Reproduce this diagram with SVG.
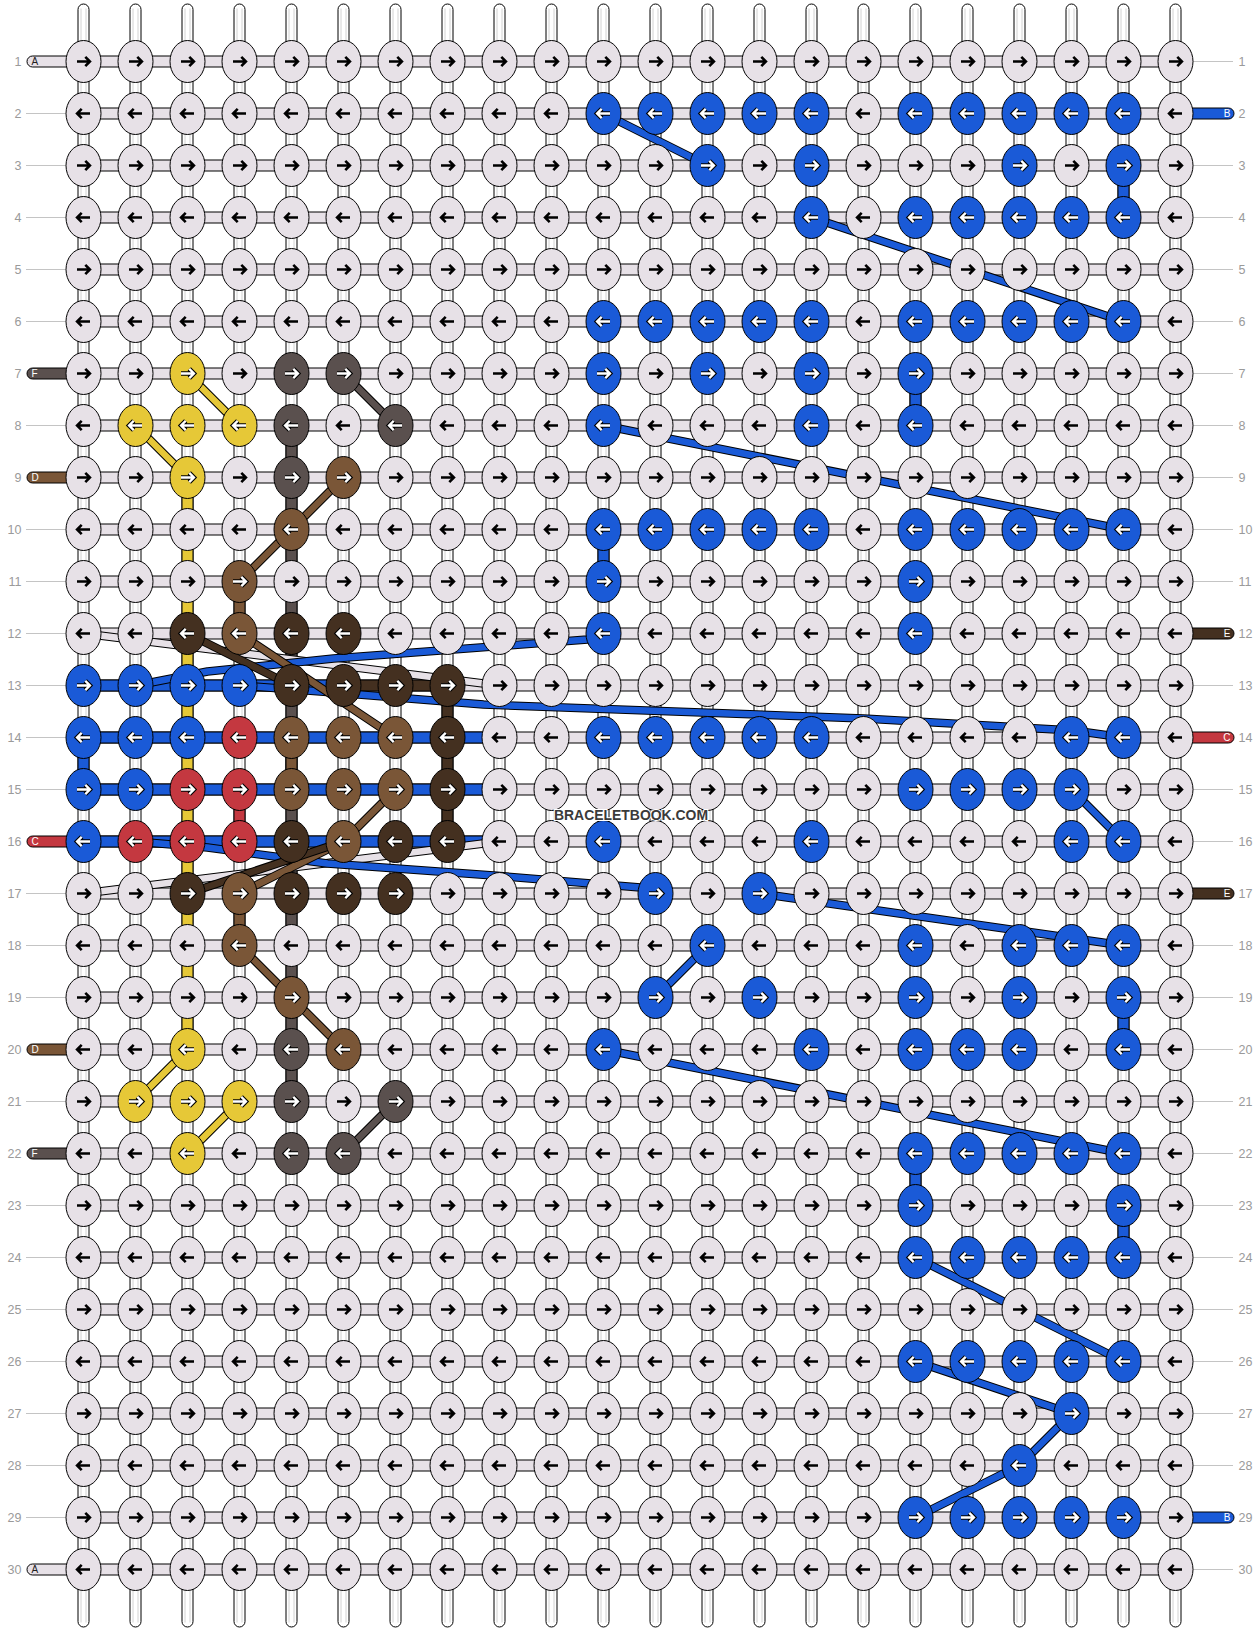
<svg xmlns="http://www.w3.org/2000/svg" width="1260" height="1632" viewBox="0 0 1260 1632">
<style>
.num{font-family:"Liberation Sans",Arial,sans-serif;font-size:12.5px;fill:#9a9a9a}
.nr{text-anchor:end}
.gl{stroke:#c4c4c4;stroke-width:1;fill:none}
.tl{font-family:"Liberation Sans",Arial,sans-serif;font-size:10px}
.o{fill:none;stroke:#000;stroke-width:8.5;stroke-linejoin:round}
.o2{fill:none;stroke-width:6.5;stroke-linejoin:round}
.cU{stroke:#1a5ad7}.cY{stroke:#e6c837}.cG{stroke:#5a504e}.cD{stroke:#7a5637}.cE{stroke:#443020}.cR{stroke:#c43840}.cL{stroke:#e7e1e7}
.seg{stroke:#000;stroke-width:1}
</style>
<defs>
<g id="vt"><rect x="-5.5" y="-57.5" width="11" height="1623" rx="5.5" fill="#fff" stroke="#000"/><path d="M-2.5,-53V1561M2.5,-53V1561" stroke="#d2d2d2"/></g>
<rect id="hb" x="0" y="-5.5" width="1092" height="11" fill="#e7e1e7" stroke="#000"/>
<ellipse id="e" rx="17.5" ry="21" stroke="#000" stroke-width="1"/>
<path id="pr" d="M-6.5,0H5.5M1.8,-4.6L6.4,0L1.8,4.6" fill="none"/>
<path id="pl" d="M6.5,0H-5.5M-1.8,-4.6L-6.4,0L-1.8,4.6" fill="none"/>
<use id="ab1" href="#pr" stroke="#000" stroke-width="2.6"/>
<use id="ab0" href="#pl" stroke="#000" stroke-width="2.6"/>
<g id="aw1"><use href="#pr" stroke="#000" stroke-width="4.6"/><use href="#pr" stroke="#fff" stroke-width="2.4"/></g>
<g id="aw0"><use href="#pl" stroke="#000" stroke-width="4.6"/><use href="#pl" stroke="#fff" stroke-width="2.4"/></g>
<g id="L1"><use href="#e" fill="#e7e1e7"/><use href="#ab1"/></g>
<g id="L0"><use href="#e" fill="#e7e1e7"/><use href="#ab0"/></g>
<g id="U1"><use href="#e" fill="#1a5ad7"/><use href="#aw1"/></g>
<g id="U0"><use href="#e" fill="#1a5ad7"/><use href="#aw0"/></g>
<g id="Y1"><use href="#e" fill="#e6c837"/><use href="#aw1"/></g>
<g id="Y0"><use href="#e" fill="#e6c837"/><use href="#aw0"/></g>
<g id="G1"><use href="#e" fill="#5a504e"/><use href="#aw1"/></g>
<g id="G0"><use href="#e" fill="#5a504e"/><use href="#aw0"/></g>
<g id="D1"><use href="#e" fill="#7a5637"/><use href="#aw1"/></g>
<g id="D0"><use href="#e" fill="#7a5637"/><use href="#aw0"/></g>
<g id="E1"><use href="#e" fill="#443020"/><use href="#aw1"/></g>
<g id="E0"><use href="#e" fill="#443020"/><use href="#aw0"/></g>
<g id="R1"><use href="#e" fill="#c43840"/><use href="#aw1"/></g>
<g id="R0"><use href="#e" fill="#c43840"/><use href="#aw0"/></g>
</defs>
<rect width="1260" height="1632" fill="#fff"/>
<g transform="translate(83.5 61.5)">
<g id="labels">
<g class="gl">
<path d="M-57.5,52H-17.5M-57.5,104H-17.5M-57.5,156H-17.5M-57.5,208H-17.5M-57.5,260H-17.5M-57.5,364H-17.5M-57.5,468H-17.5M-57.5,520H-17.5M-57.5,572H-17.5M-57.5,624H-17.5M-57.5,676H-17.5M-57.5,728H-17.5M-57.5,832H-17.5M-57.5,884H-17.5M-57.5,936H-17.5M-57.5,1040H-17.5M-57.5,1144H-17.5M-57.5,1196H-17.5M-57.5,1248H-17.5M-57.5,1300H-17.5M-57.5,1352H-17.5M-57.5,1404H-17.5M-57.5,1456H-17.5"/>
<path d="M1109.5,0H1149.5M1109.5,104H1149.5M1109.5,156H1149.5M1109.5,208H1149.5M1109.5,260H1149.5M1109.5,312H1149.5M1109.5,364H1149.5M1109.5,416H1149.5M1109.5,468H1149.5M1109.5,520H1149.5M1109.5,624H1149.5M1109.5,728H1149.5M1109.5,780H1149.5M1109.5,884H1149.5M1109.5,936H1149.5M1109.5,988H1149.5M1109.5,1040H1149.5M1109.5,1092H1149.5M1109.5,1144H1149.5M1109.5,1196H1149.5M1109.5,1248H1149.5M1109.5,1300H1149.5M1109.5,1352H1149.5M1109.5,1404H1149.5M1109.5,1508H1149.5"/>
</g>
<g class="num nr">
<text x="-62" y="4.3">1</text><text x="-62" y="56.3">2</text><text x="-62" y="108.3">3</text><text x="-62" y="160.3">4</text><text x="-62" y="212.3">5</text><text x="-62" y="264.3">6</text><text x="-62" y="316.3">7</text><text x="-62" y="368.3">8</text><text x="-62" y="420.3">9</text><text x="-62" y="472.3">10</text><text x="-62" y="524.3">11</text><text x="-62" y="576.3">12</text><text x="-62" y="628.3">13</text><text x="-62" y="680.3">14</text><text x="-62" y="732.3">15</text><text x="-62" y="784.3">16</text><text x="-62" y="836.3">17</text><text x="-62" y="888.3">18</text><text x="-62" y="940.3">19</text><text x="-62" y="992.3">20</text><text x="-62" y="1044.3">21</text><text x="-62" y="1096.3">22</text><text x="-62" y="1148.3">23</text><text x="-62" y="1200.3">24</text><text x="-62" y="1252.3">25</text><text x="-62" y="1304.3">26</text><text x="-62" y="1356.3">27</text><text x="-62" y="1408.3">28</text><text x="-62" y="1460.3">29</text><text x="-62" y="1512.3">30</text>
</g>
<g class="num">
<text x="1155" y="4.3">1</text><text x="1155" y="56.3">2</text><text x="1155" y="108.3">3</text><text x="1155" y="160.3">4</text><text x="1155" y="212.3">5</text><text x="1155" y="264.3">6</text><text x="1155" y="316.3">7</text><text x="1155" y="368.3">8</text><text x="1155" y="420.3">9</text><text x="1155" y="472.3">10</text><text x="1155" y="524.3">11</text><text x="1155" y="576.3">12</text><text x="1155" y="628.3">13</text><text x="1155" y="680.3">14</text><text x="1155" y="732.3">15</text><text x="1155" y="784.3">16</text><text x="1155" y="836.3">17</text><text x="1155" y="888.3">18</text><text x="1155" y="940.3">19</text><text x="1155" y="992.3">20</text><text x="1155" y="1044.3">21</text><text x="1155" y="1096.3">22</text><text x="1155" y="1148.3">23</text><text x="1155" y="1200.3">24</text><text x="1155" y="1252.3">25</text><text x="1155" y="1304.3">26</text><text x="1155" y="1356.3">27</text><text x="1155" y="1408.3">28</text><text x="1155" y="1460.3">29</text><text x="1155" y="1512.3">30</text>
</g>
</g>
<g id="strings">
<use href="#vt" x="0"/><use href="#vt" x="52"/><use href="#vt" x="104"/><use href="#vt" x="156"/><use href="#vt" x="208"/><use href="#vt" x="260"/><use href="#vt" x="312"/><use href="#vt" x="364"/><use href="#vt" x="416"/><use href="#vt" x="468"/><use href="#vt" x="520"/><use href="#vt" x="572"/><use href="#vt" x="624"/><use href="#vt" x="676"/><use href="#vt" x="728"/><use href="#vt" x="780"/><use href="#vt" x="832"/><use href="#vt" x="884"/><use href="#vt" x="936"/><use href="#vt" x="988"/><use href="#vt" x="1040"/><use href="#vt" x="1092"/>
<use href="#hb" y="0"/><use href="#hb" y="52"/><use href="#hb" y="104"/><use href="#hb" y="156"/><use href="#hb" y="208"/><use href="#hb" y="260"/><use href="#hb" y="312"/><use href="#hb" y="364"/><use href="#hb" y="416"/><use href="#hb" y="468"/><use href="#hb" y="520"/><use href="#hb" y="572"/><use href="#hb" y="624"/><use href="#hb" y="676"/><use href="#hb" y="728"/><use href="#hb" y="780"/><use href="#hb" y="832"/><use href="#hb" y="884"/><use href="#hb" y="936"/><use href="#hb" y="988"/><use href="#hb" y="1040"/><use href="#hb" y="1092"/><use href="#hb" y="1144"/><use href="#hb" y="1196"/><use href="#hb" y="1248"/><use href="#hb" y="1300"/><use href="#hb" y="1352"/><use href="#hb" y="1404"/><use href="#hb" y="1456"/><use href="#hb" y="1508"/>
</g>
<g id="ends" class="seg">
<rect x="-56.5" y="-5.5" width="45" height="11" rx="5.5" fill="#e7e1e7"/>
<rect x="-56.5" y="306.5" width="45" height="11" rx="5.5" fill="#5a504e"/>
<rect x="-56.5" y="410.5" width="45" height="11" rx="5.5" fill="#7a5637"/>
<rect x="-56.5" y="774.5" width="45" height="11" rx="5.5" fill="#c43840"/>
<rect x="-56.5" y="982.5" width="45" height="11" rx="5.5" fill="#7a5637"/>
<rect x="-56.5" y="1086.5" width="45" height="11" rx="5.5" fill="#5a504e"/>
<rect x="-56.5" y="1502.5" width="45" height="11" rx="5.5" fill="#e7e1e7"/>
<rect x="1100" y="46.5" width="50.5" height="11" rx="5.5" fill="#1a5ad7"/>
<rect x="1100" y="566.5" width="50.5" height="11" rx="5.5" fill="#443020"/>
<rect x="1100" y="670.5" width="50.5" height="11" rx="5.5" fill="#c43840"/>
<rect x="1100" y="826.5" width="50.5" height="11" rx="5.5" fill="#443020"/>
<rect x="1100" y="1450.5" width="50.5" height="11" rx="5.5" fill="#1a5ad7"/>
</g>
<g class="tl">
<text x="-52" y="3.7" fill="#222">A</text>
<text x="-52" y="315.7" fill="#fff">F</text>
<text x="-52" y="419.7" fill="#fff">D</text>
<text x="-52" y="783.7" fill="#fff">C</text>
<text x="-52" y="991.7" fill="#fff">D</text>
<text x="-52" y="1095.7" fill="#fff">F</text>
<text x="-52" y="1511.7" fill="#222">A</text>
<text x="1147" y="55.7" fill="#fff" text-anchor="end">B</text>
<text x="1147" y="575.7" fill="#fff" text-anchor="end">E</text>
<text x="1147" y="679.7" fill="#fff" text-anchor="end">C</text>
<text x="1147" y="835.7" fill="#fff" text-anchor="end">E</text>
<text x="1147" y="1459.7" fill="#fff" text-anchor="end">B</text>
</g>
<g id="connectors">
<g class="seg">
<rect x="98.5" y="416" width="11" height="572" fill="#e6c837"/>
<rect x="202.5" y="364" width="11" height="676" fill="#5a504e"/>
<rect x="202.5" y="676" width="11" height="52" fill="#7a5637"/>
<rect x="150.5" y="520" width="11" height="52" fill="#7a5637"/>
<rect x="150.5" y="832" width="11" height="52" fill="#7a5637"/>
<rect x="150.5" y="728" width="11" height="52" fill="#c43840"/>
<rect x="358.5" y="624" width="11" height="156" fill="#443020"/>
<rect x="-5.5" y="676" width="11" height="52" fill="#1a5ad7"/>
<rect x="1034.5" y="104" width="11" height="52" fill="#1a5ad7"/>
<rect x="1034.5" y="936" width="11" height="52" fill="#1a5ad7"/>
<rect x="1034.5" y="1144" width="11" height="52" fill="#1a5ad7"/>
<rect x="826.5" y="1092" width="11" height="52" fill="#1a5ad7"/>
<rect x="826.5" y="312" width="11" height="52" fill="#1a5ad7"/>
<rect x="514.5" y="468" width="11" height="52" fill="#1a5ad7"/>
<rect x="0" y="618.5" width="260" height="11" fill="#1a5ad7"/>
<rect x="260" y="618.5" width="104" height="11" fill="#443020"/>
<rect x="0" y="670.5" width="416" height="11" fill="#1a5ad7"/>
<rect x="0" y="722.5" width="416" height="11" fill="#1a5ad7"/>
<rect x="0" y="774.5" width="416" height="11" fill="#1a5ad7"/>
</g>
<g id="band-yellow">
<path class="o" d="M104,312L156,364M52,364L104,416M104,988L52,1040M156,1040L104,1092"/>
<path class="o2 cY" d="M104,312L156,364M52,364L104,416M104,988L52,1040M156,1040L104,1092"/>
</g>
<g id="band-gray">
<path class="o" d="M260,312L312,364M312,1040L260,1092"/>
<path class="o2 cG" d="M260,312L312,364M312,1040L260,1092"/>
</g>
<g id="band-light">
<path class="o" d="M0,572L416,624M0,832L416,780"/>
<path class="o2 cL" d="M0,572L416,624M0,832L416,780"/>
</g>
<g id="band-blue">
<path class="o" d="M520,52L624,104M728,156L1040,260M520,364L1040,468M52,624L124,610L250,597L317,592L504,578L520,572M156,624L250,631L400,643L780,657L990,669L1040,676M988,728L1040,780M52,780L124,786L244,802L410,814L557,826L572,832M676,832L1040,884M624,884L572,936M520,988L1040,1092M832,1196L1040,1300M832,1300L988,1352L936,1404L832,1456"/>
<path class="o2 cU" d="M520,52L624,104M728,156L1040,260M520,364L1040,468M52,624L124,610L250,597L317,592L504,578L520,572M156,624L250,631L400,643L780,657L990,669L1040,676M988,728L1040,780M52,780L124,786L244,802L410,814L557,826L572,832M676,832L1040,884M624,884L572,936M520,988L1040,1092M832,1196L1040,1300M832,1300L988,1352L936,1404L832,1456"/>
</g>
<g id="band-brown">
<path class="o" d="M260,416L156,520M156,884L260,988M156,572L312,676M312,728L260,780L156,832"/>
<path class="o2 cD" d="M260,416L156,520M156,884L260,988M156,572L312,676M312,728L260,780L156,832"/>
</g>
<g id="band-darkbrown">
<path class="o" d="M104,572L208,624M104,832L260,780"/>
<path class="o2 cE" d="M104,572L208,624M104,832L260,780"/>
</g>
</g>
<g id="knots">
<g id="row1"><use id="k1-1" href="#L1" x="0" y="0"/><use id="k1-2" href="#L1" x="52" y="0"/><use id="k1-3" href="#L1" x="104" y="0"/><use id="k1-4" href="#L1" x="156" y="0"/><use id="k1-5" href="#L1" x="208" y="0"/><use id="k1-6" href="#L1" x="260" y="0"/><use id="k1-7" href="#L1" x="312" y="0"/><use id="k1-8" href="#L1" x="364" y="0"/><use id="k1-9" href="#L1" x="416" y="0"/><use id="k1-10" href="#L1" x="468" y="0"/><use id="k1-11" href="#L1" x="520" y="0"/><use id="k1-12" href="#L1" x="572" y="0"/><use id="k1-13" href="#L1" x="624" y="0"/><use id="k1-14" href="#L1" x="676" y="0"/><use id="k1-15" href="#L1" x="728" y="0"/><use id="k1-16" href="#L1" x="780" y="0"/><use id="k1-17" href="#L1" x="832" y="0"/><use id="k1-18" href="#L1" x="884" y="0"/><use id="k1-19" href="#L1" x="936" y="0"/><use id="k1-20" href="#L1" x="988" y="0"/><use id="k1-21" href="#L1" x="1040" y="0"/><use id="k1-22" href="#L1" x="1092" y="0"/></g>
<g id="row2"><use id="k2-1" href="#L0" x="0" y="52"/><use id="k2-2" href="#L0" x="52" y="52"/><use id="k2-3" href="#L0" x="104" y="52"/><use id="k2-4" href="#L0" x="156" y="52"/><use id="k2-5" href="#L0" x="208" y="52"/><use id="k2-6" href="#L0" x="260" y="52"/><use id="k2-7" href="#L0" x="312" y="52"/><use id="k2-8" href="#L0" x="364" y="52"/><use id="k2-9" href="#L0" x="416" y="52"/><use id="k2-10" href="#L0" x="468" y="52"/><use id="k2-11" href="#U0" x="520" y="52"/><use id="k2-12" href="#U0" x="572" y="52"/><use id="k2-13" href="#U0" x="624" y="52"/><use id="k2-14" href="#U0" x="676" y="52"/><use id="k2-15" href="#U0" x="728" y="52"/><use id="k2-16" href="#L0" x="780" y="52"/><use id="k2-17" href="#U0" x="832" y="52"/><use id="k2-18" href="#U0" x="884" y="52"/><use id="k2-19" href="#U0" x="936" y="52"/><use id="k2-20" href="#U0" x="988" y="52"/><use id="k2-21" href="#U0" x="1040" y="52"/><use id="k2-22" href="#L0" x="1092" y="52"/></g>
<g id="row3"><use id="k3-1" href="#L1" x="0" y="104"/><use id="k3-2" href="#L1" x="52" y="104"/><use id="k3-3" href="#L1" x="104" y="104"/><use id="k3-4" href="#L1" x="156" y="104"/><use id="k3-5" href="#L1" x="208" y="104"/><use id="k3-6" href="#L1" x="260" y="104"/><use id="k3-7" href="#L1" x="312" y="104"/><use id="k3-8" href="#L1" x="364" y="104"/><use id="k3-9" href="#L1" x="416" y="104"/><use id="k3-10" href="#L1" x="468" y="104"/><use id="k3-11" href="#L1" x="520" y="104"/><use id="k3-12" href="#L1" x="572" y="104"/><use id="k3-13" href="#U1" x="624" y="104"/><use id="k3-14" href="#L1" x="676" y="104"/><use id="k3-15" href="#U1" x="728" y="104"/><use id="k3-16" href="#L1" x="780" y="104"/><use id="k3-17" href="#L1" x="832" y="104"/><use id="k3-18" href="#L1" x="884" y="104"/><use id="k3-19" href="#U1" x="936" y="104"/><use id="k3-20" href="#L1" x="988" y="104"/><use id="k3-21" href="#U1" x="1040" y="104"/><use id="k3-22" href="#L1" x="1092" y="104"/></g>
<g id="row4"><use id="k4-1" href="#L0" x="0" y="156"/><use id="k4-2" href="#L0" x="52" y="156"/><use id="k4-3" href="#L0" x="104" y="156"/><use id="k4-4" href="#L0" x="156" y="156"/><use id="k4-5" href="#L0" x="208" y="156"/><use id="k4-6" href="#L0" x="260" y="156"/><use id="k4-7" href="#L0" x="312" y="156"/><use id="k4-8" href="#L0" x="364" y="156"/><use id="k4-9" href="#L0" x="416" y="156"/><use id="k4-10" href="#L0" x="468" y="156"/><use id="k4-11" href="#L0" x="520" y="156"/><use id="k4-12" href="#L0" x="572" y="156"/><use id="k4-13" href="#L0" x="624" y="156"/><use id="k4-14" href="#L0" x="676" y="156"/><use id="k4-15" href="#U0" x="728" y="156"/><use id="k4-16" href="#L0" x="780" y="156"/><use id="k4-17" href="#U0" x="832" y="156"/><use id="k4-18" href="#U0" x="884" y="156"/><use id="k4-19" href="#U0" x="936" y="156"/><use id="k4-20" href="#U0" x="988" y="156"/><use id="k4-21" href="#U0" x="1040" y="156"/><use id="k4-22" href="#L0" x="1092" y="156"/></g>
<g id="row5"><use id="k5-1" href="#L1" x="0" y="208"/><use id="k5-2" href="#L1" x="52" y="208"/><use id="k5-3" href="#L1" x="104" y="208"/><use id="k5-4" href="#L1" x="156" y="208"/><use id="k5-5" href="#L1" x="208" y="208"/><use id="k5-6" href="#L1" x="260" y="208"/><use id="k5-7" href="#L1" x="312" y="208"/><use id="k5-8" href="#L1" x="364" y="208"/><use id="k5-9" href="#L1" x="416" y="208"/><use id="k5-10" href="#L1" x="468" y="208"/><use id="k5-11" href="#L1" x="520" y="208"/><use id="k5-12" href="#L1" x="572" y="208"/><use id="k5-13" href="#L1" x="624" y="208"/><use id="k5-14" href="#L1" x="676" y="208"/><use id="k5-15" href="#L1" x="728" y="208"/><use id="k5-16" href="#L1" x="780" y="208"/><use id="k5-17" href="#L1" x="832" y="208"/><use id="k5-18" href="#L1" x="884" y="208"/><use id="k5-19" href="#L1" x="936" y="208"/><use id="k5-20" href="#L1" x="988" y="208"/><use id="k5-21" href="#L1" x="1040" y="208"/><use id="k5-22" href="#L1" x="1092" y="208"/></g>
<g id="row6"><use id="k6-1" href="#L0" x="0" y="260"/><use id="k6-2" href="#L0" x="52" y="260"/><use id="k6-3" href="#L0" x="104" y="260"/><use id="k6-4" href="#L0" x="156" y="260"/><use id="k6-5" href="#L0" x="208" y="260"/><use id="k6-6" href="#L0" x="260" y="260"/><use id="k6-7" href="#L0" x="312" y="260"/><use id="k6-8" href="#L0" x="364" y="260"/><use id="k6-9" href="#L0" x="416" y="260"/><use id="k6-10" href="#L0" x="468" y="260"/><use id="k6-11" href="#U0" x="520" y="260"/><use id="k6-12" href="#U0" x="572" y="260"/><use id="k6-13" href="#U0" x="624" y="260"/><use id="k6-14" href="#U0" x="676" y="260"/><use id="k6-15" href="#U0" x="728" y="260"/><use id="k6-16" href="#L0" x="780" y="260"/><use id="k6-17" href="#U0" x="832" y="260"/><use id="k6-18" href="#U0" x="884" y="260"/><use id="k6-19" href="#U0" x="936" y="260"/><use id="k6-20" href="#U0" x="988" y="260"/><use id="k6-21" href="#U0" x="1040" y="260"/><use id="k6-22" href="#L0" x="1092" y="260"/></g>
<g id="row7"><use id="k7-1" href="#L1" x="0" y="312"/><use id="k7-2" href="#L1" x="52" y="312"/><use id="k7-3" href="#Y1" x="104" y="312"/><use id="k7-4" href="#L1" x="156" y="312"/><use id="k7-5" href="#G1" x="208" y="312"/><use id="k7-6" href="#G1" x="260" y="312"/><use id="k7-7" href="#L1" x="312" y="312"/><use id="k7-8" href="#L1" x="364" y="312"/><use id="k7-9" href="#L1" x="416" y="312"/><use id="k7-10" href="#L1" x="468" y="312"/><use id="k7-11" href="#U1" x="520" y="312"/><use id="k7-12" href="#L1" x="572" y="312"/><use id="k7-13" href="#U1" x="624" y="312"/><use id="k7-14" href="#L1" x="676" y="312"/><use id="k7-15" href="#U1" x="728" y="312"/><use id="k7-16" href="#L1" x="780" y="312"/><use id="k7-17" href="#U1" x="832" y="312"/><use id="k7-18" href="#L1" x="884" y="312"/><use id="k7-19" href="#L1" x="936" y="312"/><use id="k7-20" href="#L1" x="988" y="312"/><use id="k7-21" href="#L1" x="1040" y="312"/><use id="k7-22" href="#L1" x="1092" y="312"/></g>
<g id="row8"><use id="k8-1" href="#L0" x="0" y="364"/><use id="k8-2" href="#Y0" x="52" y="364"/><use id="k8-3" href="#Y0" x="104" y="364"/><use id="k8-4" href="#Y0" x="156" y="364"/><use id="k8-5" href="#G0" x="208" y="364"/><use id="k8-6" href="#L0" x="260" y="364"/><use id="k8-7" href="#G0" x="312" y="364"/><use id="k8-8" href="#L0" x="364" y="364"/><use id="k8-9" href="#L0" x="416" y="364"/><use id="k8-10" href="#L0" x="468" y="364"/><use id="k8-11" href="#U0" x="520" y="364"/><use id="k8-12" href="#L0" x="572" y="364"/><use id="k8-13" href="#L0" x="624" y="364"/><use id="k8-14" href="#L0" x="676" y="364"/><use id="k8-15" href="#U0" x="728" y="364"/><use id="k8-16" href="#L0" x="780" y="364"/><use id="k8-17" href="#U0" x="832" y="364"/><use id="k8-18" href="#L0" x="884" y="364"/><use id="k8-19" href="#L0" x="936" y="364"/><use id="k8-20" href="#L0" x="988" y="364"/><use id="k8-21" href="#L0" x="1040" y="364"/><use id="k8-22" href="#L0" x="1092" y="364"/></g>
<g id="row9"><use id="k9-1" href="#L1" x="0" y="416"/><use id="k9-2" href="#L1" x="52" y="416"/><use id="k9-3" href="#Y1" x="104" y="416"/><use id="k9-4" href="#L1" x="156" y="416"/><use id="k9-5" href="#G1" x="208" y="416"/><use id="k9-6" href="#D1" x="260" y="416"/><use id="k9-7" href="#L1" x="312" y="416"/><use id="k9-8" href="#L1" x="364" y="416"/><use id="k9-9" href="#L1" x="416" y="416"/><use id="k9-10" href="#L1" x="468" y="416"/><use id="k9-11" href="#L1" x="520" y="416"/><use id="k9-12" href="#L1" x="572" y="416"/><use id="k9-13" href="#L1" x="624" y="416"/><use id="k9-14" href="#L1" x="676" y="416"/><use id="k9-15" href="#L1" x="728" y="416"/><use id="k9-16" href="#L1" x="780" y="416"/><use id="k9-17" href="#L1" x="832" y="416"/><use id="k9-18" href="#L1" x="884" y="416"/><use id="k9-19" href="#L1" x="936" y="416"/><use id="k9-20" href="#L1" x="988" y="416"/><use id="k9-21" href="#L1" x="1040" y="416"/><use id="k9-22" href="#L1" x="1092" y="416"/></g>
<g id="row10"><use id="k10-1" href="#L0" x="0" y="468"/><use id="k10-2" href="#L0" x="52" y="468"/><use id="k10-3" href="#L0" x="104" y="468"/><use id="k10-4" href="#L0" x="156" y="468"/><use id="k10-5" href="#D0" x="208" y="468"/><use id="k10-6" href="#L0" x="260" y="468"/><use id="k10-7" href="#L0" x="312" y="468"/><use id="k10-8" href="#L0" x="364" y="468"/><use id="k10-9" href="#L0" x="416" y="468"/><use id="k10-10" href="#L0" x="468" y="468"/><use id="k10-11" href="#U0" x="520" y="468"/><use id="k10-12" href="#U0" x="572" y="468"/><use id="k10-13" href="#U0" x="624" y="468"/><use id="k10-14" href="#U0" x="676" y="468"/><use id="k10-15" href="#U0" x="728" y="468"/><use id="k10-16" href="#L0" x="780" y="468"/><use id="k10-17" href="#U0" x="832" y="468"/><use id="k10-18" href="#U0" x="884" y="468"/><use id="k10-19" href="#U0" x="936" y="468"/><use id="k10-20" href="#U0" x="988" y="468"/><use id="k10-21" href="#U0" x="1040" y="468"/><use id="k10-22" href="#L0" x="1092" y="468"/></g>
<g id="row11"><use id="k11-1" href="#L1" x="0" y="520"/><use id="k11-2" href="#L1" x="52" y="520"/><use id="k11-3" href="#L1" x="104" y="520"/><use id="k11-4" href="#D1" x="156" y="520"/><use id="k11-5" href="#L1" x="208" y="520"/><use id="k11-6" href="#L1" x="260" y="520"/><use id="k11-7" href="#L1" x="312" y="520"/><use id="k11-8" href="#L1" x="364" y="520"/><use id="k11-9" href="#L1" x="416" y="520"/><use id="k11-10" href="#L1" x="468" y="520"/><use id="k11-11" href="#U1" x="520" y="520"/><use id="k11-12" href="#L1" x="572" y="520"/><use id="k11-13" href="#L1" x="624" y="520"/><use id="k11-14" href="#L1" x="676" y="520"/><use id="k11-15" href="#L1" x="728" y="520"/><use id="k11-16" href="#L1" x="780" y="520"/><use id="k11-17" href="#U1" x="832" y="520"/><use id="k11-18" href="#L1" x="884" y="520"/><use id="k11-19" href="#L1" x="936" y="520"/><use id="k11-20" href="#L1" x="988" y="520"/><use id="k11-21" href="#L1" x="1040" y="520"/><use id="k11-22" href="#L1" x="1092" y="520"/></g>
<g id="row12"><use id="k12-1" href="#L0" x="0" y="572"/><use id="k12-2" href="#L0" x="52" y="572"/><use id="k12-3" href="#E0" x="104" y="572"/><use id="k12-4" href="#D0" x="156" y="572"/><use id="k12-5" href="#E0" x="208" y="572"/><use id="k12-6" href="#E0" x="260" y="572"/><use id="k12-7" href="#L0" x="312" y="572"/><use id="k12-8" href="#L0" x="364" y="572"/><use id="k12-9" href="#L0" x="416" y="572"/><use id="k12-10" href="#L0" x="468" y="572"/><use id="k12-11" href="#U0" x="520" y="572"/><use id="k12-12" href="#L0" x="572" y="572"/><use id="k12-13" href="#L0" x="624" y="572"/><use id="k12-14" href="#L0" x="676" y="572"/><use id="k12-15" href="#L0" x="728" y="572"/><use id="k12-16" href="#L0" x="780" y="572"/><use id="k12-17" href="#U0" x="832" y="572"/><use id="k12-18" href="#L0" x="884" y="572"/><use id="k12-19" href="#L0" x="936" y="572"/><use id="k12-20" href="#L0" x="988" y="572"/><use id="k12-21" href="#L0" x="1040" y="572"/><use id="k12-22" href="#L0" x="1092" y="572"/></g>
<g id="row13"><use id="k13-1" href="#U1" x="0" y="624"/><use id="k13-2" href="#U1" x="52" y="624"/><use id="k13-3" href="#U1" x="104" y="624"/><use id="k13-4" href="#U1" x="156" y="624"/><use id="k13-5" href="#E1" x="208" y="624"/><use id="k13-6" href="#E1" x="260" y="624"/><use id="k13-7" href="#E1" x="312" y="624"/><use id="k13-8" href="#E1" x="364" y="624"/><use id="k13-9" href="#L1" x="416" y="624"/><use id="k13-10" href="#L1" x="468" y="624"/><use id="k13-11" href="#L1" x="520" y="624"/><use id="k13-12" href="#L1" x="572" y="624"/><use id="k13-13" href="#L1" x="624" y="624"/><use id="k13-14" href="#L1" x="676" y="624"/><use id="k13-15" href="#L1" x="728" y="624"/><use id="k13-16" href="#L1" x="780" y="624"/><use id="k13-17" href="#L1" x="832" y="624"/><use id="k13-18" href="#L1" x="884" y="624"/><use id="k13-19" href="#L1" x="936" y="624"/><use id="k13-20" href="#L1" x="988" y="624"/><use id="k13-21" href="#L1" x="1040" y="624"/><use id="k13-22" href="#L1" x="1092" y="624"/></g>
<g id="row14"><use id="k14-1" href="#U0" x="0" y="676"/><use id="k14-2" href="#U0" x="52" y="676"/><use id="k14-3" href="#U0" x="104" y="676"/><use id="k14-4" href="#R0" x="156" y="676"/><use id="k14-5" href="#D0" x="208" y="676"/><use id="k14-6" href="#D0" x="260" y="676"/><use id="k14-7" href="#D0" x="312" y="676"/><use id="k14-8" href="#E0" x="364" y="676"/><use id="k14-9" href="#L0" x="416" y="676"/><use id="k14-10" href="#L0" x="468" y="676"/><use id="k14-11" href="#U0" x="520" y="676"/><use id="k14-12" href="#U0" x="572" y="676"/><use id="k14-13" href="#U0" x="624" y="676"/><use id="k14-14" href="#U0" x="676" y="676"/><use id="k14-15" href="#U0" x="728" y="676"/><use id="k14-16" href="#L0" x="780" y="676"/><use id="k14-17" href="#L0" x="832" y="676"/><use id="k14-18" href="#L0" x="884" y="676"/><use id="k14-19" href="#L0" x="936" y="676"/><use id="k14-20" href="#U0" x="988" y="676"/><use id="k14-21" href="#U0" x="1040" y="676"/><use id="k14-22" href="#L0" x="1092" y="676"/></g>
<g id="row15"><use id="k15-1" href="#U1" x="0" y="728"/><use id="k15-2" href="#U1" x="52" y="728"/><use id="k15-3" href="#R1" x="104" y="728"/><use id="k15-4" href="#R1" x="156" y="728"/><use id="k15-5" href="#D1" x="208" y="728"/><use id="k15-6" href="#D1" x="260" y="728"/><use id="k15-7" href="#D1" x="312" y="728"/><use id="k15-8" href="#E1" x="364" y="728"/><use id="k15-9" href="#L1" x="416" y="728"/><use id="k15-10" href="#L1" x="468" y="728"/><use id="k15-11" href="#L1" x="520" y="728"/><use id="k15-12" href="#L1" x="572" y="728"/><use id="k15-13" href="#L1" x="624" y="728"/><use id="k15-14" href="#L1" x="676" y="728"/><use id="k15-15" href="#L1" x="728" y="728"/><use id="k15-16" href="#L1" x="780" y="728"/><use id="k15-17" href="#U1" x="832" y="728"/><use id="k15-18" href="#U1" x="884" y="728"/><use id="k15-19" href="#U1" x="936" y="728"/><use id="k15-20" href="#U1" x="988" y="728"/><use id="k15-21" href="#L1" x="1040" y="728"/><use id="k15-22" href="#L1" x="1092" y="728"/></g>
<g id="row16"><use id="k16-1" href="#U0" x="0" y="780"/><use id="k16-2" href="#R0" x="52" y="780"/><use id="k16-3" href="#R0" x="104" y="780"/><use id="k16-4" href="#R0" x="156" y="780"/><use id="k16-5" href="#E0" x="208" y="780"/><use id="k16-6" href="#D0" x="260" y="780"/><use id="k16-7" href="#E0" x="312" y="780"/><use id="k16-8" href="#E0" x="364" y="780"/><use id="k16-9" href="#L0" x="416" y="780"/><use id="k16-10" href="#L0" x="468" y="780"/><use id="k16-11" href="#U0" x="520" y="780"/><use id="k16-12" href="#L0" x="572" y="780"/><use id="k16-13" href="#L0" x="624" y="780"/><use id="k16-14" href="#L0" x="676" y="780"/><use id="k16-15" href="#U0" x="728" y="780"/><use id="k16-16" href="#L0" x="780" y="780"/><use id="k16-17" href="#L0" x="832" y="780"/><use id="k16-18" href="#L0" x="884" y="780"/><use id="k16-19" href="#L0" x="936" y="780"/><use id="k16-20" href="#U0" x="988" y="780"/><use id="k16-21" href="#U0" x="1040" y="780"/><use id="k16-22" href="#L0" x="1092" y="780"/></g>
<g id="row17"><use id="k17-1" href="#L1" x="0" y="832"/><use id="k17-2" href="#L1" x="52" y="832"/><use id="k17-3" href="#E1" x="104" y="832"/><use id="k17-4" href="#D1" x="156" y="832"/><use id="k17-5" href="#E1" x="208" y="832"/><use id="k17-6" href="#E1" x="260" y="832"/><use id="k17-7" href="#E1" x="312" y="832"/><use id="k17-8" href="#L1" x="364" y="832"/><use id="k17-9" href="#L1" x="416" y="832"/><use id="k17-10" href="#L1" x="468" y="832"/><use id="k17-11" href="#L1" x="520" y="832"/><use id="k17-12" href="#U1" x="572" y="832"/><use id="k17-13" href="#L1" x="624" y="832"/><use id="k17-14" href="#U1" x="676" y="832"/><use id="k17-15" href="#L1" x="728" y="832"/><use id="k17-16" href="#L1" x="780" y="832"/><use id="k17-17" href="#L1" x="832" y="832"/><use id="k17-18" href="#L1" x="884" y="832"/><use id="k17-19" href="#L1" x="936" y="832"/><use id="k17-20" href="#L1" x="988" y="832"/><use id="k17-21" href="#L1" x="1040" y="832"/><use id="k17-22" href="#L1" x="1092" y="832"/></g>
<g id="row18"><use id="k18-1" href="#L0" x="0" y="884"/><use id="k18-2" href="#L0" x="52" y="884"/><use id="k18-3" href="#L0" x="104" y="884"/><use id="k18-4" href="#D0" x="156" y="884"/><use id="k18-5" href="#L0" x="208" y="884"/><use id="k18-6" href="#L0" x="260" y="884"/><use id="k18-7" href="#L0" x="312" y="884"/><use id="k18-8" href="#L0" x="364" y="884"/><use id="k18-9" href="#L0" x="416" y="884"/><use id="k18-10" href="#L0" x="468" y="884"/><use id="k18-11" href="#L0" x="520" y="884"/><use id="k18-12" href="#L0" x="572" y="884"/><use id="k18-13" href="#U0" x="624" y="884"/><use id="k18-14" href="#L0" x="676" y="884"/><use id="k18-15" href="#L0" x="728" y="884"/><use id="k18-16" href="#L0" x="780" y="884"/><use id="k18-17" href="#U0" x="832" y="884"/><use id="k18-18" href="#L0" x="884" y="884"/><use id="k18-19" href="#U0" x="936" y="884"/><use id="k18-20" href="#U0" x="988" y="884"/><use id="k18-21" href="#U0" x="1040" y="884"/><use id="k18-22" href="#L0" x="1092" y="884"/></g>
<g id="row19"><use id="k19-1" href="#L1" x="0" y="936"/><use id="k19-2" href="#L1" x="52" y="936"/><use id="k19-3" href="#L1" x="104" y="936"/><use id="k19-4" href="#L1" x="156" y="936"/><use id="k19-5" href="#D1" x="208" y="936"/><use id="k19-6" href="#L1" x="260" y="936"/><use id="k19-7" href="#L1" x="312" y="936"/><use id="k19-8" href="#L1" x="364" y="936"/><use id="k19-9" href="#L1" x="416" y="936"/><use id="k19-10" href="#L1" x="468" y="936"/><use id="k19-11" href="#L1" x="520" y="936"/><use id="k19-12" href="#U1" x="572" y="936"/><use id="k19-13" href="#L1" x="624" y="936"/><use id="k19-14" href="#U1" x="676" y="936"/><use id="k19-15" href="#L1" x="728" y="936"/><use id="k19-16" href="#L1" x="780" y="936"/><use id="k19-17" href="#U1" x="832" y="936"/><use id="k19-18" href="#L1" x="884" y="936"/><use id="k19-19" href="#U1" x="936" y="936"/><use id="k19-20" href="#L1" x="988" y="936"/><use id="k19-21" href="#U1" x="1040" y="936"/><use id="k19-22" href="#L1" x="1092" y="936"/></g>
<g id="row20"><use id="k20-1" href="#L0" x="0" y="988"/><use id="k20-2" href="#L0" x="52" y="988"/><use id="k20-3" href="#Y0" x="104" y="988"/><use id="k20-4" href="#L0" x="156" y="988"/><use id="k20-5" href="#G0" x="208" y="988"/><use id="k20-6" href="#D0" x="260" y="988"/><use id="k20-7" href="#L0" x="312" y="988"/><use id="k20-8" href="#L0" x="364" y="988"/><use id="k20-9" href="#L0" x="416" y="988"/><use id="k20-10" href="#L0" x="468" y="988"/><use id="k20-11" href="#U0" x="520" y="988"/><use id="k20-12" href="#L0" x="572" y="988"/><use id="k20-13" href="#L0" x="624" y="988"/><use id="k20-14" href="#L0" x="676" y="988"/><use id="k20-15" href="#U0" x="728" y="988"/><use id="k20-16" href="#L0" x="780" y="988"/><use id="k20-17" href="#U0" x="832" y="988"/><use id="k20-18" href="#U0" x="884" y="988"/><use id="k20-19" href="#U0" x="936" y="988"/><use id="k20-20" href="#L0" x="988" y="988"/><use id="k20-21" href="#U0" x="1040" y="988"/><use id="k20-22" href="#L0" x="1092" y="988"/></g>
<g id="row21"><use id="k21-1" href="#L1" x="0" y="1040"/><use id="k21-2" href="#Y1" x="52" y="1040"/><use id="k21-3" href="#Y1" x="104" y="1040"/><use id="k21-4" href="#Y1" x="156" y="1040"/><use id="k21-5" href="#G1" x="208" y="1040"/><use id="k21-6" href="#L1" x="260" y="1040"/><use id="k21-7" href="#G1" x="312" y="1040"/><use id="k21-8" href="#L1" x="364" y="1040"/><use id="k21-9" href="#L1" x="416" y="1040"/><use id="k21-10" href="#L1" x="468" y="1040"/><use id="k21-11" href="#L1" x="520" y="1040"/><use id="k21-12" href="#L1" x="572" y="1040"/><use id="k21-13" href="#L1" x="624" y="1040"/><use id="k21-14" href="#L1" x="676" y="1040"/><use id="k21-15" href="#L1" x="728" y="1040"/><use id="k21-16" href="#L1" x="780" y="1040"/><use id="k21-17" href="#L1" x="832" y="1040"/><use id="k21-18" href="#L1" x="884" y="1040"/><use id="k21-19" href="#L1" x="936" y="1040"/><use id="k21-20" href="#L1" x="988" y="1040"/><use id="k21-21" href="#L1" x="1040" y="1040"/><use id="k21-22" href="#L1" x="1092" y="1040"/></g>
<g id="row22"><use id="k22-1" href="#L0" x="0" y="1092"/><use id="k22-2" href="#L0" x="52" y="1092"/><use id="k22-3" href="#Y0" x="104" y="1092"/><use id="k22-4" href="#L0" x="156" y="1092"/><use id="k22-5" href="#G0" x="208" y="1092"/><use id="k22-6" href="#G0" x="260" y="1092"/><use id="k22-7" href="#L0" x="312" y="1092"/><use id="k22-8" href="#L0" x="364" y="1092"/><use id="k22-9" href="#L0" x="416" y="1092"/><use id="k22-10" href="#L0" x="468" y="1092"/><use id="k22-11" href="#L0" x="520" y="1092"/><use id="k22-12" href="#L0" x="572" y="1092"/><use id="k22-13" href="#L0" x="624" y="1092"/><use id="k22-14" href="#L0" x="676" y="1092"/><use id="k22-15" href="#L0" x="728" y="1092"/><use id="k22-16" href="#L0" x="780" y="1092"/><use id="k22-17" href="#U0" x="832" y="1092"/><use id="k22-18" href="#U0" x="884" y="1092"/><use id="k22-19" href="#U0" x="936" y="1092"/><use id="k22-20" href="#U0" x="988" y="1092"/><use id="k22-21" href="#U0" x="1040" y="1092"/><use id="k22-22" href="#L0" x="1092" y="1092"/></g>
<g id="row23"><use id="k23-1" href="#L1" x="0" y="1144"/><use id="k23-2" href="#L1" x="52" y="1144"/><use id="k23-3" href="#L1" x="104" y="1144"/><use id="k23-4" href="#L1" x="156" y="1144"/><use id="k23-5" href="#L1" x="208" y="1144"/><use id="k23-6" href="#L1" x="260" y="1144"/><use id="k23-7" href="#L1" x="312" y="1144"/><use id="k23-8" href="#L1" x="364" y="1144"/><use id="k23-9" href="#L1" x="416" y="1144"/><use id="k23-10" href="#L1" x="468" y="1144"/><use id="k23-11" href="#L1" x="520" y="1144"/><use id="k23-12" href="#L1" x="572" y="1144"/><use id="k23-13" href="#L1" x="624" y="1144"/><use id="k23-14" href="#L1" x="676" y="1144"/><use id="k23-15" href="#L1" x="728" y="1144"/><use id="k23-16" href="#L1" x="780" y="1144"/><use id="k23-17" href="#U1" x="832" y="1144"/><use id="k23-18" href="#L1" x="884" y="1144"/><use id="k23-19" href="#L1" x="936" y="1144"/><use id="k23-20" href="#L1" x="988" y="1144"/><use id="k23-21" href="#U1" x="1040" y="1144"/><use id="k23-22" href="#L1" x="1092" y="1144"/></g>
<g id="row24"><use id="k24-1" href="#L0" x="0" y="1196"/><use id="k24-2" href="#L0" x="52" y="1196"/><use id="k24-3" href="#L0" x="104" y="1196"/><use id="k24-4" href="#L0" x="156" y="1196"/><use id="k24-5" href="#L0" x="208" y="1196"/><use id="k24-6" href="#L0" x="260" y="1196"/><use id="k24-7" href="#L0" x="312" y="1196"/><use id="k24-8" href="#L0" x="364" y="1196"/><use id="k24-9" href="#L0" x="416" y="1196"/><use id="k24-10" href="#L0" x="468" y="1196"/><use id="k24-11" href="#L0" x="520" y="1196"/><use id="k24-12" href="#L0" x="572" y="1196"/><use id="k24-13" href="#L0" x="624" y="1196"/><use id="k24-14" href="#L0" x="676" y="1196"/><use id="k24-15" href="#L0" x="728" y="1196"/><use id="k24-16" href="#L0" x="780" y="1196"/><use id="k24-17" href="#U0" x="832" y="1196"/><use id="k24-18" href="#U0" x="884" y="1196"/><use id="k24-19" href="#U0" x="936" y="1196"/><use id="k24-20" href="#U0" x="988" y="1196"/><use id="k24-21" href="#U0" x="1040" y="1196"/><use id="k24-22" href="#L0" x="1092" y="1196"/></g>
<g id="row25"><use id="k25-1" href="#L1" x="0" y="1248"/><use id="k25-2" href="#L1" x="52" y="1248"/><use id="k25-3" href="#L1" x="104" y="1248"/><use id="k25-4" href="#L1" x="156" y="1248"/><use id="k25-5" href="#L1" x="208" y="1248"/><use id="k25-6" href="#L1" x="260" y="1248"/><use id="k25-7" href="#L1" x="312" y="1248"/><use id="k25-8" href="#L1" x="364" y="1248"/><use id="k25-9" href="#L1" x="416" y="1248"/><use id="k25-10" href="#L1" x="468" y="1248"/><use id="k25-11" href="#L1" x="520" y="1248"/><use id="k25-12" href="#L1" x="572" y="1248"/><use id="k25-13" href="#L1" x="624" y="1248"/><use id="k25-14" href="#L1" x="676" y="1248"/><use id="k25-15" href="#L1" x="728" y="1248"/><use id="k25-16" href="#L1" x="780" y="1248"/><use id="k25-17" href="#L1" x="832" y="1248"/><use id="k25-18" href="#L1" x="884" y="1248"/><use id="k25-19" href="#L1" x="936" y="1248"/><use id="k25-20" href="#L1" x="988" y="1248"/><use id="k25-21" href="#L1" x="1040" y="1248"/><use id="k25-22" href="#L1" x="1092" y="1248"/></g>
<g id="row26"><use id="k26-1" href="#L0" x="0" y="1300"/><use id="k26-2" href="#L0" x="52" y="1300"/><use id="k26-3" href="#L0" x="104" y="1300"/><use id="k26-4" href="#L0" x="156" y="1300"/><use id="k26-5" href="#L0" x="208" y="1300"/><use id="k26-6" href="#L0" x="260" y="1300"/><use id="k26-7" href="#L0" x="312" y="1300"/><use id="k26-8" href="#L0" x="364" y="1300"/><use id="k26-9" href="#L0" x="416" y="1300"/><use id="k26-10" href="#L0" x="468" y="1300"/><use id="k26-11" href="#L0" x="520" y="1300"/><use id="k26-12" href="#L0" x="572" y="1300"/><use id="k26-13" href="#L0" x="624" y="1300"/><use id="k26-14" href="#L0" x="676" y="1300"/><use id="k26-15" href="#L0" x="728" y="1300"/><use id="k26-16" href="#L0" x="780" y="1300"/><use id="k26-17" href="#U0" x="832" y="1300"/><use id="k26-18" href="#U0" x="884" y="1300"/><use id="k26-19" href="#U0" x="936" y="1300"/><use id="k26-20" href="#U0" x="988" y="1300"/><use id="k26-21" href="#U0" x="1040" y="1300"/><use id="k26-22" href="#L0" x="1092" y="1300"/></g>
<g id="row27"><use id="k27-1" href="#L1" x="0" y="1352"/><use id="k27-2" href="#L1" x="52" y="1352"/><use id="k27-3" href="#L1" x="104" y="1352"/><use id="k27-4" href="#L1" x="156" y="1352"/><use id="k27-5" href="#L1" x="208" y="1352"/><use id="k27-6" href="#L1" x="260" y="1352"/><use id="k27-7" href="#L1" x="312" y="1352"/><use id="k27-8" href="#L1" x="364" y="1352"/><use id="k27-9" href="#L1" x="416" y="1352"/><use id="k27-10" href="#L1" x="468" y="1352"/><use id="k27-11" href="#L1" x="520" y="1352"/><use id="k27-12" href="#L1" x="572" y="1352"/><use id="k27-13" href="#L1" x="624" y="1352"/><use id="k27-14" href="#L1" x="676" y="1352"/><use id="k27-15" href="#L1" x="728" y="1352"/><use id="k27-16" href="#L1" x="780" y="1352"/><use id="k27-17" href="#L1" x="832" y="1352"/><use id="k27-18" href="#L1" x="884" y="1352"/><use id="k27-19" href="#L1" x="936" y="1352"/><use id="k27-20" href="#U1" x="988" y="1352"/><use id="k27-21" href="#L1" x="1040" y="1352"/><use id="k27-22" href="#L1" x="1092" y="1352"/></g>
<g id="row28"><use id="k28-1" href="#L0" x="0" y="1404"/><use id="k28-2" href="#L0" x="52" y="1404"/><use id="k28-3" href="#L0" x="104" y="1404"/><use id="k28-4" href="#L0" x="156" y="1404"/><use id="k28-5" href="#L0" x="208" y="1404"/><use id="k28-6" href="#L0" x="260" y="1404"/><use id="k28-7" href="#L0" x="312" y="1404"/><use id="k28-8" href="#L0" x="364" y="1404"/><use id="k28-9" href="#L0" x="416" y="1404"/><use id="k28-10" href="#L0" x="468" y="1404"/><use id="k28-11" href="#L0" x="520" y="1404"/><use id="k28-12" href="#L0" x="572" y="1404"/><use id="k28-13" href="#L0" x="624" y="1404"/><use id="k28-14" href="#L0" x="676" y="1404"/><use id="k28-15" href="#L0" x="728" y="1404"/><use id="k28-16" href="#L0" x="780" y="1404"/><use id="k28-17" href="#L0" x="832" y="1404"/><use id="k28-18" href="#L0" x="884" y="1404"/><use id="k28-19" href="#U0" x="936" y="1404"/><use id="k28-20" href="#L0" x="988" y="1404"/><use id="k28-21" href="#L0" x="1040" y="1404"/><use id="k28-22" href="#L0" x="1092" y="1404"/></g>
<g id="row29"><use id="k29-1" href="#L1" x="0" y="1456"/><use id="k29-2" href="#L1" x="52" y="1456"/><use id="k29-3" href="#L1" x="104" y="1456"/><use id="k29-4" href="#L1" x="156" y="1456"/><use id="k29-5" href="#L1" x="208" y="1456"/><use id="k29-6" href="#L1" x="260" y="1456"/><use id="k29-7" href="#L1" x="312" y="1456"/><use id="k29-8" href="#L1" x="364" y="1456"/><use id="k29-9" href="#L1" x="416" y="1456"/><use id="k29-10" href="#L1" x="468" y="1456"/><use id="k29-11" href="#L1" x="520" y="1456"/><use id="k29-12" href="#L1" x="572" y="1456"/><use id="k29-13" href="#L1" x="624" y="1456"/><use id="k29-14" href="#L1" x="676" y="1456"/><use id="k29-15" href="#L1" x="728" y="1456"/><use id="k29-16" href="#L1" x="780" y="1456"/><use id="k29-17" href="#U1" x="832" y="1456"/><use id="k29-18" href="#U1" x="884" y="1456"/><use id="k29-19" href="#U1" x="936" y="1456"/><use id="k29-20" href="#U1" x="988" y="1456"/><use id="k29-21" href="#U1" x="1040" y="1456"/><use id="k29-22" href="#L1" x="1092" y="1456"/></g>
<g id="row30"><use id="k30-1" href="#L0" x="0" y="1508"/><use id="k30-2" href="#L0" x="52" y="1508"/><use id="k30-3" href="#L0" x="104" y="1508"/><use id="k30-4" href="#L0" x="156" y="1508"/><use id="k30-5" href="#L0" x="208" y="1508"/><use id="k30-6" href="#L0" x="260" y="1508"/><use id="k30-7" href="#L0" x="312" y="1508"/><use id="k30-8" href="#L0" x="364" y="1508"/><use id="k30-9" href="#L0" x="416" y="1508"/><use id="k30-10" href="#L0" x="468" y="1508"/><use id="k30-11" href="#L0" x="520" y="1508"/><use id="k30-12" href="#L0" x="572" y="1508"/><use id="k30-13" href="#L0" x="624" y="1508"/><use id="k30-14" href="#L0" x="676" y="1508"/><use id="k30-15" href="#L0" x="728" y="1508"/><use id="k30-16" href="#L0" x="780" y="1508"/><use id="k30-17" href="#L0" x="832" y="1508"/><use id="k30-18" href="#L0" x="884" y="1508"/><use id="k30-19" href="#L0" x="936" y="1508"/><use id="k30-20" href="#L0" x="988" y="1508"/><use id="k30-21" href="#L0" x="1040" y="1508"/><use id="k30-22" href="#L0" x="1092" y="1508"/></g>
</g>
</g>
<text x="631" y="820" text-anchor="middle" font-family="'Liberation Sans',Arial,sans-serif" font-weight="bold" font-size="14" textLength="154" lengthAdjust="spacingAndGlyphs" fill="#3a3a3a" stroke="#fff" stroke-width="2" paint-order="stroke">BRACELETBOOK.COM</text>
</svg>
